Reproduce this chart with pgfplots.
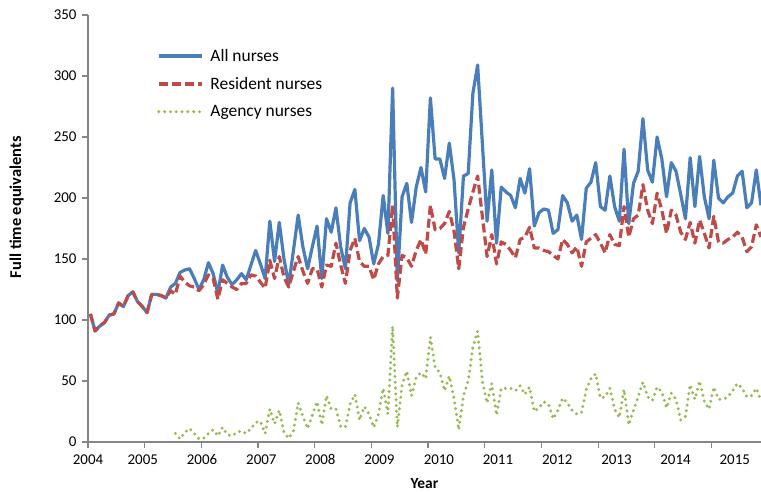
\documentclass[border=0pt]{standalone}
\usepackage{pgfplots}
\pgfplotsset{compat=1.18}
\usepackage{pgfplotstable}
\usepackage{fontspec}
\setmainfont{Carlito}
\definecolor{cAll}{HTML}{4A7EBB}
\definecolor{cRes}{HTML}{BE4B48}
\definecolor{cAge}{HTML}{98B954}
\definecolor{cAxis}{HTML}{868686}

\pgfplotstableread{
j all res
0 105 105
1 91 91
2 95 95
3 98 98
4 104 104
5 105 105
6 114 114
7 111 111
8 120 120
9 123 123
10 115 115
11 111 111
12 106 106
13 121 121
14 121 121
15 120 120
16 118 118
17 127 124
18 130 121
19 139 136
20 141 131
21 142 128
22 134 127
23 125 124
24 133 129
25 147 137
26 138 134
27 122 117
28 145 133
29 135 130
30 129 127
31 133 125
32 138 130
33 133 130
34 145 137
35 157 136
36 146 131
37 134 126
38 181 149
39 148 134
40 180 152
41 150 135
42 129 127
43 157 140
44 186 152
45 160 140
46 142 130
47 160 142
48 177 142
49 134 127
50 183 145
51 172 144
52 192 163
53 160 145
54 142 130
55 196 157
56 207 167
57 165 148
58 175 144
59 168 144
60 146 133
61 162 146
62 202 152
63 171 153
64 290 194
65 132 118
66 201 153
67 212 151
68 180 144
69 209 157
70 225 166
71 205 154
72 282 194
73 232 174
74 232 175
75 216 179
76 245 189
77 215 173
78 155 142
79 218 176
80 220 191
81 286 205
82 309 218
83 245 185
84 181 152
85 223 170
86 163 146
87 209 164
88 205 162
89 202 157
90 192 151
91 216 166
92 204 168
93 224 176
94 177 159
95 188 159
96 191 157
97 190 156
98 171 153
99 174 150
100 202 166
101 196 162
102 181 155
103 186 160
104 166 144
105 208 164
106 213 167
107 229 170
108 193 163
109 190 155
110 218 170
111 193 162
112 181 161
113 240 193
114 179 168
115 212 183
116 222 186
117 265 211
118 223 190
119 213 179
120 250 204
121 232 190
122 201 171
123 229 190
124 222 186
125 203 172
126 183 166
127 233 180
128 193 163
129 234 182
130 201 171
131 183 159
132 231 185
133 200 164
134 196 163
135 201 166
136 204 168
137 218 172
138 222 168
139 192 156
140 196 160
141 223 178
142 194 168
}\nurses

\pgfplotstableread{
j age
18 7
19 2.5
20 8
21 11
22 7
23 2.5
24 3
25 7
26 10
27 5
28 12
29 6
30 5
31 8
32 9
33 7
34 11
35 16
36 17
37 7
38 27
39 15
40 26
41 8
42 3
43 9
44 32
45 21
46 11
47 22
48 33
49 14
50 38
51 27
52 27
53 13
54 12
55 31
56 39
57 18
58 29
59 23
60 12
61 23
62 44
63 23
64 95
65 12
66 47
67 58
68 38
69 53
70 57
71 52
72 86
73 61
74 57
75 42
76 54
77 36
78 10
79 38
80 50
81 78
82 91
83 50
84 32
85 48
86 22
87 44
88 44
89 44
90 42
91 46
92 39
93 45
94 25
95 28
96 33
97 31
98 19
99 26
100 36
101 32
102 26
103 23
104 24
105 43
106 52
107 56
108 36
109 37
110 44
111 27
112 20
113 43
114 14
115 26
116 37
117 49
118 37
119 34
120 45
121 41
122 28
123 40
124 35
125 18
126 21
127 47
128 35
129 50
130 33
131 27
132 45
133 35
134 35
135 37
136 42
137 48
138 44
139 37
140 38
141 44
142 34
}\agency

\begin{document}
\begin{tikzpicture}
\path[use as bounding box] (-88bp,-50bp) rectangle (673bp,442bp);
\begin{axis}[
  at={(0,0)}, anchor=south west,
  scale only axis, width=673bp, height=427bp,
  xmin=-0.5, xmax=142, ymin=0, ymax=350,
  axis lines*=left,
  axis line style={cAxis, line width=1.1bp},
  every tick/.style={cAxis, line width=1.1bp},
  tick align=outside, major tick length=6bp,
  xtick={-0.5,11.5,...,131.5},
  xticklabels={},
  extra x ticks={-0.5,11.1,23.64,36.2,48.7,61.2,73.8,86.3,98.85,111.4,123.9,136.45},
  extra x tick labels={2004,2005,2006,2007,2008,2009,2010,2011,2012,2013,2014,2015},
  extra x tick style={major tick length=0pt},
  ytick={0,50,...,350},
  /pgf/number format/assume math mode=true,
  tick label style={font=\fontsize{15}{17}\selectfont, black},
  xticklabel style={yshift=-9bp},
  yticklabel style={xshift=-2bp},
  xlabel={Year}, ylabel={Full time equivalents},
  every axis x label/.style={at={(axis description cs:0.5,-0.097)}, anchor=center,
    font=\bfseries\fontsize{15.5}{18}\selectfont},
  every axis y label/.style={at={(axis description cs:-0.106,0.55)}, rotate=90, anchor=center,
    font=\bfseries\fontsize{16.5}{19}\selectfont},
  legend style={draw=none, fill=none, at={(axis description cs:0.1025,0.925)}, anchor=north west,
    font=\fontsize{17.5}{20}\selectfont, row sep=10.5bp, inner sep=0pt,
    /tikz/every odd column/.append style={column sep=5bp}},
  legend cell align=left,
  legend image code/.code={\draw[#1] (0bp,0bp) -- (43bp,0bp);},
]
\addplot[cAll, line width=3.2bp, line join=round, no markers] table[x=j, y=all] {\nurses};
\addplot[cRes, line width=3.2bp, line join=round, dash pattern=on 9bp off 4bp, no markers] table[x=j, y=res] {\nurses};
\addplot[cAge, line width=3.3bp, line cap=round, dash pattern=on 0bp off 5.8bp, no markers] table[x=j, y=age] {\agency};
\legend{All nurses, Resident nurses, Agency nurses}
\end{axis}
\end{tikzpicture}
\end{document}
